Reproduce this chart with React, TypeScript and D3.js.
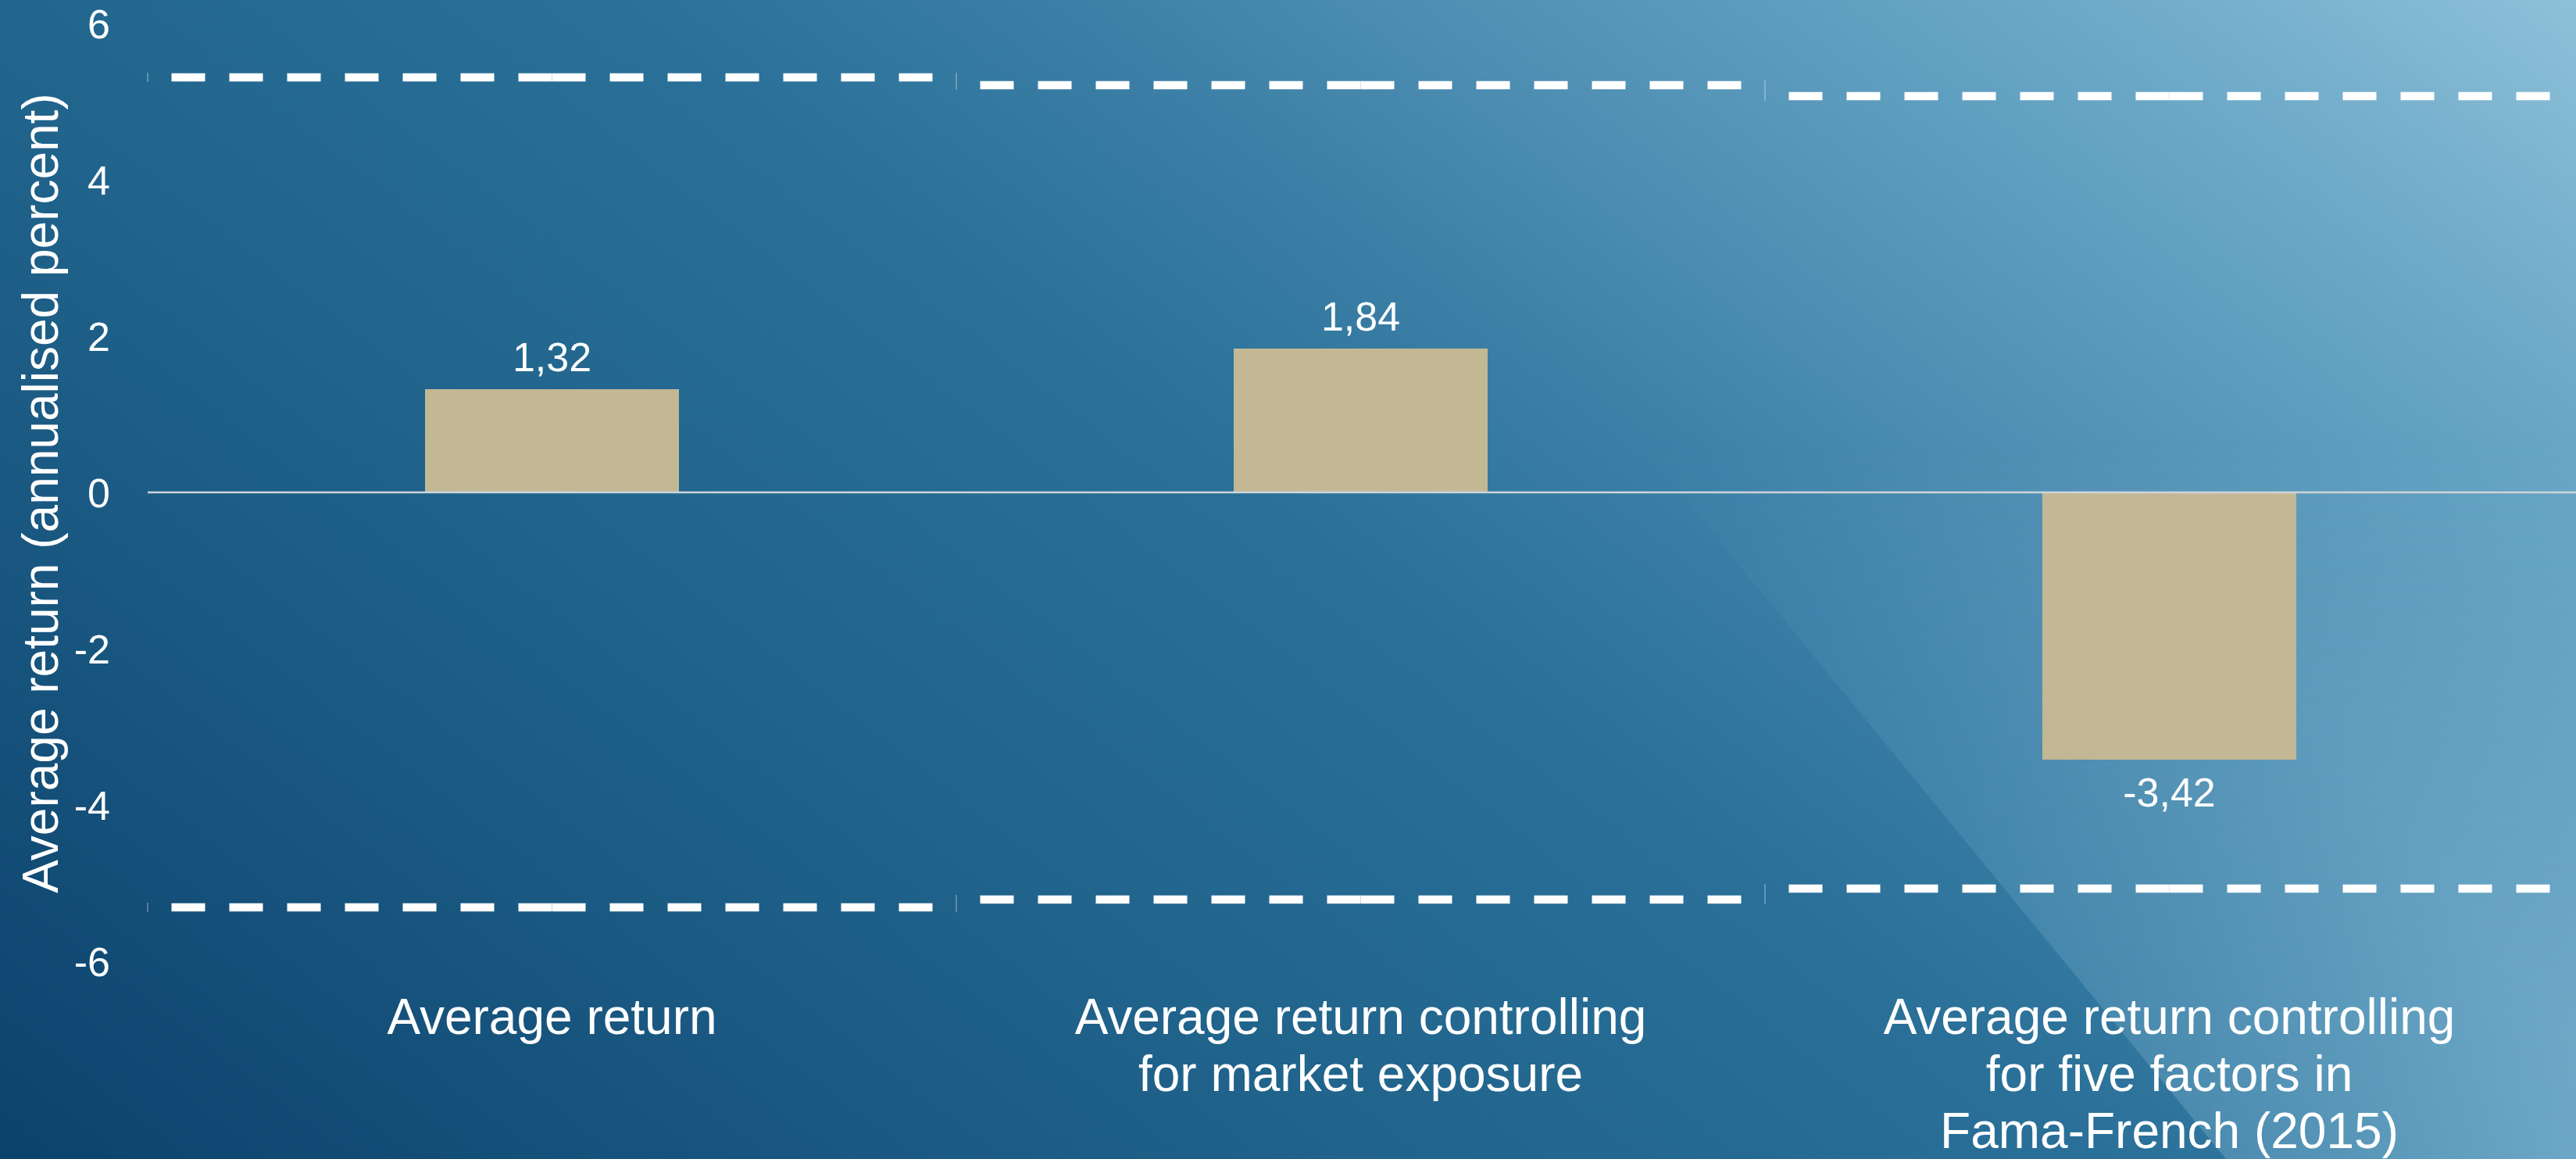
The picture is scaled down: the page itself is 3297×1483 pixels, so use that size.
import React from "react";
import * as d3 from "d3";

// ---- data ----
const categories = ["cat1", "cat2", "cat3"];
const categoryLines: string[][] = [
  ["Average return"],
  ["Average return controlling", "for market exposure"],
  ["Average return controlling", "for five factors in", "Fama-French (2015)"],
];
const values = [1.32, 1.84, -3.42];
const upperBound = [5.31, 5.21, 5.07];
const lowerBound = [-5.31, -5.21, -5.07];
const yTicks = [-6, -4, -2, 0, 2, 4, 6];
const yTitle = "Average return (annualised percent)";

const W = 3297;
const H = 1483;
const FONT = "'Liberation Sans', Arial, Helvetica, sans-serif";

const locale = d3.formatLocale({
  decimal: ",",
  thousands: ".",
  grouping: [3],
  currency: ["", ""],
  minus: "-",
});
const fmt = locale.format(".2f");

export default function App() {
  const y = d3.scaleLinear().domain([-6, 6]).range([1230, 30]);
  const x = d3
    .scaleBand<string>()
    .domain(categories)
    .range([189, 3294])
    .paddingInner(0.686)
    .paddingOuter(0.343);
  const step = x.step();
  const bw = x.bandwidth();
  const center = (c: string) => (x(c) as number) + bw / 2;
  const line = d3.line<[number, number]>();

  const dashSegments: { d: string; key: string }[] = [];
  const connectors: { d: string; key: string }[] = [];
  [upperBound, lowerBound].forEach((arr, k) => {
    arr.forEach((v, i) => {
      const c = center(categories[i]);
      const yy = y(v);
      dashSegments.push({ key: `l${k}-${i}`, d: line([[c, yy], [c - step / 2, yy]]) as string });
      dashSegments.push({ key: `r${k}-${i}`, d: line([[c, yy], [c + step / 2, yy]]) as string });
      const xb = c - step / 2;
      if (i === 0) {
        connectors.push({ key: `c${k}-${i}`, d: line([[xb, yy - 6], [xb, yy + 6]]) as string });
      } else {
        const prev = y(arr[i - 1]);
        connectors.push({
          key: `c${k}-${i}`,
          d: line([[xb, Math.min(prev, yy) - 6], [xb, Math.max(prev, yy) + 6]]) as string,
        });
      }
    });
  });

  return (
    <svg
      width={W}
      height={H}
      viewBox={`0 0 ${W} ${H}`}
      style={{ position: "absolute", left: 0, top: 0, display: "block" }}
      fontFamily={FONT}
    >
      <defs>
        <linearGradient id="bg" gradientUnits="userSpaceOnUse" x1={0} y1={1483} x2={1942} y2={-1042}>
          <stop offset="0" stopColor="#0b426c" />
          <stop offset="0.2" stopColor="#195780" />
          <stop offset="0.37" stopColor="#22668e" />
          <stop offset="0.52" stopColor="#2a7098" />
          <stop offset="0.62" stopColor="#3a7ea5" />
          <stop offset="0.72" stopColor="#4f8fb3" />
          <stop offset="0.82" stopColor="#60a0c1" />
          <stop offset="0.9" stopColor="#72adcb" />
          <stop offset="1" stopColor="#8ec0d9" />
        </linearGradient>
        <linearGradient
          id="ov"
          gradientUnits="userSpaceOnUse"
          x1={2849}
          y1={1483}
          x2={2849 + 0.773 * 450}
          y2={1483 - 0.634 * 450}
        >
          <stop offset="0" stopColor="#a8d8ee" stopOpacity={0.25} />
          <stop offset="1" stopColor="#a8d8ee" stopOpacity={0.5} />
        </linearGradient>
        <linearGradient id="mk" gradientUnits="userSpaceOnUse" x1={0} y1={560} x2={0} y2={1483}>
          <stop offset="0" stopColor="#000000" />
          <stop offset="1" stopColor="#ffffff" />
        </linearGradient>
        <mask id="ovmask" maskUnits="userSpaceOnUse" x={0} y={0} width={W} height={H}>
          <rect x={0} y={0} width={W} height={H} fill="url(#mk)" />
        </mask>
      </defs>
      <rect x={0} y={0} width={W} height={H} fill="url(#bg)" />
      <polygon points="1633,0 3297,0 3297,1483 2849,1483" fill="url(#ov)" mask="url(#ovmask)" />

      {/* y tick labels */}
      {yTicks.map((t) => (
        <text
          key={t}
          x={141}
          y={y(t)}
          dy="0.36em"
          textAnchor="end"
          fontSize={52}
          fill="#ffffff"
        >
          {String(t)}
        </text>
      ))}

      {/* y title */}
      <text
        transform={`translate(73.5, ${(y(6) + y(-6)) / 2 + 1}) rotate(-90)`}
        textAnchor="middle"
        fontSize={64}
        fill="#ffffff"
      >
        {yTitle}
      </text>

      {/* bars */}
      {values.map((v, i) => (
        <rect
          key={categories[i]}
          x={x(categories[i])}
          y={Math.min(y(v), y(0))}
          width={bw}
          height={Math.abs(y(v) - y(0))}
          fill="#c2b894"
        />
      ))}

      {/* zero line */}
      <line x1={189} x2={W} y1={y(0)} y2={y(0)} stroke="#cdd5da" strokeWidth={2.5} />

      {/* value labels */}
      {values.map((v, i) => (
        <text
          key={"v" + i}
          x={center(categories[i])}
          y={v >= 0 ? y(v) - 23 : y(v) + 60}
          textAnchor="middle"
          fontSize={52}
          fill="#ffffff"
        >
          {fmt(v)}
        </text>
      ))}

      {/* bound connectors */}
      {connectors.map((s) => (
        <path key={s.key} d={s.d} stroke="#ffffff" strokeOpacity={0.45} strokeWidth={1.2} fill="none" />
      ))}
      {/* dashed bounds */}
      {dashSegments.map((s) => (
        <path
          key={s.key}
          d={s.d}
          stroke="#ffffff"
          strokeWidth={10.5}
          strokeDasharray="43 31"
          fill="none"
        />
      ))}

      {/* category labels */}
      {categoryLines.map((lines, i) => (
        <text key={"c" + i} textAnchor="middle" fontSize={64} fill="#ffffff">
          {lines.map((ln, j) => (
            <tspan key={j} x={center(categories[i])} y={1323 + j * 73}>
              {ln}
            </tspan>
          ))}
        </text>
      ))}
    </svg>
  );
}
